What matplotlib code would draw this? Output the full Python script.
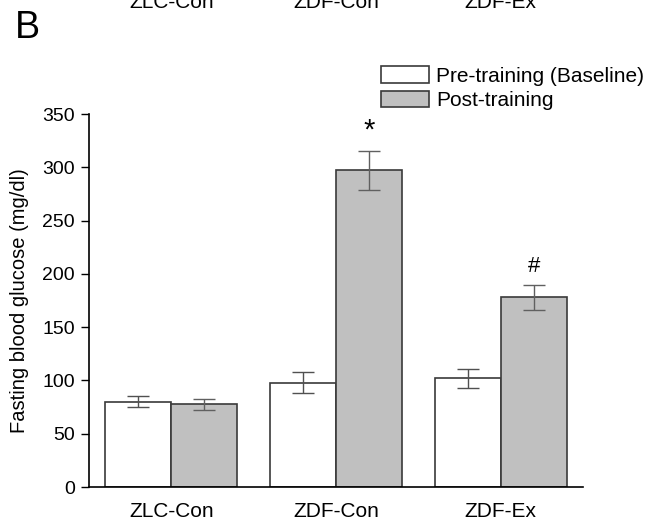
import matplotlib
matplotlib.use('Agg')
import matplotlib.pyplot as plt
import matplotlib.transforms as mtransforms
from matplotlib.patches import Patch
import numpy as np

plt.rcParams['font.family'] = ['Liberation Sans', 'DejaVu Sans']

groups = ['ZLC-Con', 'ZDF-Con', 'ZDF-Ex']
pre_mean = [80, 98, 102]
pre_err = [5, 10, 9]
post_mean = [77.5, 297, 178]
post_err = [5, 18, 12]
series_labels = ['Pre-training (Baseline)', 'Post-training']
yticks = [0, 50, 100, 150, 200, 250, 300, 350]

fig = plt.figure(figsize=(6.57, 5.26), dpi=100)
ax = fig.add_axes([89 / 657, 1 - 487 / 526, (583 - 89) / 657, (487 - 114) / 526])

x = np.arange(len(groups))
w = 0.4
edge = '#3a3a3a'
ax.bar(x - w / 2, pre_mean, w, color='white', edgecolor=edge, linewidth=1.2, zorder=2)
ax.bar(x + w / 2, post_mean, w, color='#c0c0c0', edgecolor=edge, linewidth=1.2, zorder=2)
ax.errorbar(x - w / 2, pre_mean, yerr=pre_err, fmt='none', ecolor='#505050',
            elinewidth=1, capsize=8, capthick=1, zorder=3)
ax.errorbar(x + w / 2, post_mean, yerr=post_err, fmt='none', ecolor='#606060',
            elinewidth=1, capsize=8, capthick=1, zorder=3)

# significance marks
ax.text(x[1] + w / 2, 334, '*', ha='center', va='center', fontsize=21)
ax.text(x[2] + w / 2, 207, '#', ha='center', va='center', fontsize=16)

ax.set_xlim(-0.5, 2.5)
ax.set_ylim(0, 350)
ax.set_yticks(yticks)
ax.set_xticks(x)
ax.set_xticklabels(groups, fontsize=15)
ax.tick_params(axis='x', length=0, pad=11)
ax.tick_params(axis='y', direction='out', length=6, width=1, pad=4, labelsize=14)
ax.spines['top'].set_visible(False)
ax.spines['right'].set_visible(False)
ax.spines['left'].set_linewidth(1.2)
ax.spines['bottom'].set_linewidth(1.2)
ax.set_ylabel('Fasting blood glucose (mg/dl)', fontsize=14.5, labelpad=10)

handles = [Patch(facecolor='white', edgecolor=edge, linewidth=1.2),
           Patch(facecolor='#c0c0c0', edgecolor=edge, linewidth=1.2)]
fig.legend(handles, series_labels, loc='upper left',
           bbox_to_anchor=(381 / 657, 1 - 66 / 526), frameon=False,
           fontsize=15, handlelength=2.3, handleheight=0.85,
           handletextpad=0.35, labelspacing=0.25, borderpad=0, borderaxespad=0)

fig.text(15 / 657, 1 - 38 / 526, 'B', fontsize=27, ha='left', va='baseline')

# labels of the panel above, cut off at the top edge as in the source
trans = mtransforms.blended_transform_factory(ax.transData, fig.transFigure)
for xi, g in zip(x, groups):
    ax.text(xi, 1 - 12 / 526, g, transform=trans, ha='center', va='bottom',
            fontsize=15, clip_on=False)

fig.savefig('out.png', dpi=100)
